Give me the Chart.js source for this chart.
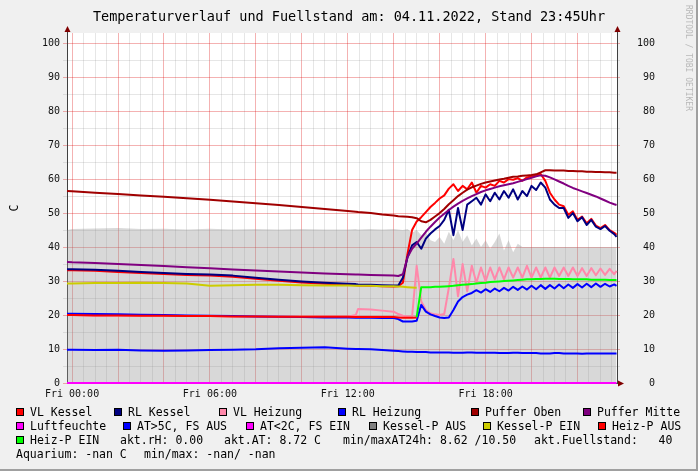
<!DOCTYPE html>
<html>
<head>
<meta charset="utf-8">
<script src="https://cdn.jsdelivr.net/npm/chart.js@4.4.1/dist/chart.umd.min.js"></script>
<style>
  body { margin: 0; background: #f0f0f0; }
  #wrap { position: relative; width: 698px; height: 471px; background: #f0f0f0; overflow: hidden;
          font-family: 'DejaVu Sans Mono', monospace; color: #000; }
  #frameR { position: absolute; right: 0; top: 0; width: 2px; height: 471px; background: #a0a0a0; }
  #frameB { position: absolute; left: 0; bottom: 0; width: 698px; height: 2px; background: #a0a0a0; }
  #title { position: absolute; left: 0; top: 8px; width: 698px; text-align: center; font-size: 13.5px; line-height: 16px; }
  #mark { position: absolute; left: 684px; top: 5px; writing-mode: vertical-rl; font-size: 8px; line-height: 9px; color: #b8b8b8; }
  .lg { position: absolute; font-size: 11.5px; line-height: 14px; white-space: pre; }
  .sq { position: absolute; width: 6px; height: 6px; border: 1px solid #000; }
  canvas { position: absolute; left: 0; top: 0; }
</style>
</head>
<body>
<div id="wrap">
  <div id="frameR"></div>
  <div id="frameB"></div>
  <canvas id="chart" width="698" height="471"></canvas>
  <div id="title">Temperaturverlauf und Fuellstand am: 04.11.2022, Stand 23:45Uhr</div>
  <div id="mark">RRDTOOL / TOBI OETIKER</div>
  <div id="legend"></div>
</div>
<script>
// time axis in hours (Fri 00:00 = 0), coarse while flat, dense once the boiler starts
const hours = [-0.22, 0, 1, 2, 3, 4, 5, 6, 7, 8, 9, 10, 11, 12, 12.35, 12.45, 13, 13.5, 14,
  14.2, 14.4, 14.6, 14.8, 15.0, 15.2, 15.4, 15.6, 15.8, 16.0, 16.2, 16.4, 16.6, 16.8, 17.0, 17.2,
  17.4, 17.6, 17.8, 18.0, 18.2, 18.4, 18.6, 18.8, 19.0, 19.2, 19.4, 19.6, 19.8, 20.0, 20.2, 20.4,
  20.6, 20.8, 21.0, 21.2, 21.4, 21.6, 21.8, 22.0, 22.2, 22.4, 22.6, 22.8, 23.0, 23.2, 23.4, 23.6, 23.7];

const vlKessel = [33.2, 33.2, 33.0, 32.7, 32.4, 32.1, 31.8, 31.6, 31.3, 30.7, 30.1, 29.6, 29.2, 28.9, 28.8, 28.7, 28.6, 28.5, 28.4,
  28.5, 29.5, 38.0, 45.0, 47.5, 48.8, 50.3, 51.8, 53.0, 54.3, 55.2, 57.2, 58.5, 56.5, 58.0, 57.0, 59.0, 56.0, 58.0, 57.5,
  58.5, 58.0, 59.5, 59.0, 60.0, 59.8, 60.3, 59.5, 60.5, 60.8, 61.0, 61.5, 59.5, 56.0, 54.0, 52.5, 52.0, 49.5, 50.5, 48.0,
  49.0, 47.0, 48.3, 46.3, 45.6, 46.5, 45.0, 44.2, 43.6];
const rlKessel = [33.5, 33.5, 33.3, 33.0, 32.7, 32.4, 32.1, 31.9, 31.6, 31.0, 30.4, 29.9, 29.5, 29.2, 29.1, 29.0, 28.9, 28.8, 28.7,
  28.7, 31.0, 37.0, 40.5, 41.5, 39.5, 42.5, 44.0, 45.2, 46.2, 48.0, 51.0, 43.5, 51.5, 45.0, 52.5, 53.5, 54.5, 52.5, 55.5,
  53.5, 56.0, 54.0, 56.5, 54.5, 57.0, 54.0, 56.5, 55.0, 58.0, 56.8, 59.0, 57.5, 54.0, 52.5, 51.5, 51.5, 48.6, 50.0, 47.6,
  48.8, 46.5, 48.0, 46.0, 45.3, 46.2, 44.8, 43.8, 43.0];
const vlHeizung = [20.0, 20.0, 19.9, 19.9, 19.8, 19.8, 19.7, 19.7, 19.6, 19.6, 19.5, 19.5, 19.5, 19.5, 20.0, 21.8, 21.6, 21.3, 21.0,
  20.3, 19.8, 19.6, 19.5, 34.5, 24.0, 21.5, 20.5, 20.2, 20.0, 20.3, 28.0, 36.5, 25.5, 35.0, 27.0, 34.5, 29.5, 34.0, 30.0,
  34.0, 30.5, 34.0, 30.5, 34.0, 31.0, 34.0, 31.0, 34.5, 31.0, 34.0, 31.0, 34.0, 31.0, 34.0, 31.5, 34.0, 31.5, 34.0, 31.5,
  33.8, 31.5, 33.8, 31.7, 33.7, 31.8, 33.6, 32.0, 33.0];
const rlHeizung = [20.4, 20.4, 20.3, 20.2, 20.1, 20.0, 19.9, 19.8, 19.7, 19.6, 19.5, 19.4, 19.3, 19.3, 19.2, 19.2, 19.2, 19.1, 19.1,
  18.8, 18.1, 18.1, 18.1, 18.3, 23.0, 21.0, 20.2, 19.7, 19.3, 19.1, 19.3, 21.5, 24.0, 25.3, 26.0, 26.5, 27.3, 26.6, 27.6,
  26.8, 27.8, 27.0, 28.0, 27.2, 28.3, 27.4, 28.4, 27.5, 28.6, 27.6, 28.8, 27.7, 28.8, 27.8, 29.0, 27.9, 29.0, 28.0, 29.1,
  28.1, 29.2, 28.2, 29.3, 28.3, 29.2, 28.4, 29.0, 28.6];
const pufferOben = [56.5, 56.4, 56.0, 55.6, 55.2, 54.8, 54.4, 53.9, 53.4, 52.9, 52.4, 51.8, 51.2, 50.6, 50.4, 50.3, 50.0, 49.6, 49.3,
  49.1, 49.0, 48.9, 48.8, 48.5, 47.6, 47.3, 48.0, 49.0, 50.0, 51.2, 52.6, 53.8, 55.0, 56.0, 56.9, 57.6, 58.1, 58.6, 59.0,
  59.3, 59.6, 59.9, 60.1, 60.4, 60.7, 60.8, 61.0, 61.1, 61.2, 61.4, 62.0, 62.6, 62.6, 62.5, 62.5, 62.5, 62.4, 62.4, 62.3,
  62.3, 62.2, 62.2, 62.1, 62.1, 62.0, 62.0, 61.9, 61.9];
const pufferMitte = [35.6, 35.5, 35.3, 35.0, 34.7, 34.4, 34.1, 33.8, 33.4, 33.1, 32.8, 32.5, 32.2, 32.0, 31.9, 31.9, 31.8, 31.7, 31.6,
  31.5, 32.0, 37.0, 39.5, 41.0, 42.8, 44.5, 46.0, 47.4, 48.7, 49.8, 50.9, 51.9, 52.8, 53.6, 54.3, 55.0, 55.6, 56.2, 56.7,
  57.1, 57.5, 57.9, 58.2, 58.5, 58.8, 59.2, 59.6, 60.0, 60.4, 60.8, 61.1, 61.0, 60.5, 59.9, 59.3, 58.7, 58.0, 57.4, 56.9,
  56.4, 55.9, 55.4, 54.9, 54.3, 53.7, 53.1, 52.6, 52.4];
const luftfeuchte = [0, 0, 0, 0, 0, 0, 0, 0, 0, 0, 0, 0, 0, 0, 0, 0, 0, 0, 0,
  0, 0, 0, 0, 0, 0, 0, 0, 0, 0, 0, 0, 0, 0, 0, 0, 0, 0, 0, 0,
  0, 0, 0, 0, 0, 0, 0, 0, 0, 0, 0, 0, 0, 0, 0, 0, 0, 0, 0, 0,
  0, 0, 0, 0, 0, 0, 0, 0, 0];
const aussenTemp = [9.8, 9.8, 9.7, 9.8, 9.6, 9.5, 9.6, 9.7, 9.8, 9.9, 10.2, 10.4, 10.5, 10.1, 10.0, 10.0, 9.9, 9.7, 9.5,
  9.4, 9.3, 9.2, 9.2, 9.1, 9.1, 9.1, 9.0, 9.0, 9.0, 9.0, 9.0, 8.9, 8.9, 8.9, 9.0, 9.0, 8.9, 8.9, 8.9,
  8.9, 8.9, 8.8, 8.8, 8.8, 8.9, 8.9, 8.8, 8.8, 8.8, 8.8, 8.7, 8.7, 8.7, 8.8, 8.8, 8.7, 8.7, 8.7, 8.7,
  8.6, 8.7, 8.7, 8.7, 8.7, 8.7, 8.7, 8.7, 8.7];
const kesselPAus = [45.0, 45.3, 45.5, 45.6, 45.3, 45.4, 45.2, 45.4, 45.2, 45.3, 45.2, 45.3, 45.2, 45.2, 45.3, 45.2, 45.3, 45.2, 45.3,
  45.2, 45.0, 45.3, 44.2, 45.0, 43.5, 44.5, 42.0, 41.5, 43.0, 41.0, 44.5, 42.0, 45.0, 41.5, 43.5, 40.5, 42.5, 40.0, 42.0,
  39.5, 41.5, 44.0, 39.0, 42.0, 38.5, 41.0, 40.0, 40.0, 40.0, 40.0, 40.0, 40.0, 40.0, 40.0, 40.0, 40.0, 40.0, 40.0, 40.0,
  40.0, 40.0, 40.0, 40.0, 40.0, 40.0, 40.0, 40.0, 40.0];
const kesselPEin = [29.3, 29.3, 29.4, 29.4, 29.5, 29.4, 29.3, 28.6, 28.8, 28.9, 28.9, 28.8, 28.7, 28.7, 28.6, 28.6, 28.6, 28.5, 28.5,
  28.4, 28.3, 28.2, 28.1, 28.0, null, null, null, null, null, null, null, null, null, null, null, null, null, null, null,
  null, null, null, null, null, null, null, null, null, null, null, null, null, null, null, null, null, null, null, null,
  null, null, null, null, null, null, null, null, null];
const heizPAus = [20.0, 20.0, 19.9, 19.9, 19.8, 19.8, 19.7, 19.7, 19.6, 19.6, 19.5, 19.5, 19.5, 19.5, 19.4, 19.4, 19.4, 19.4, 19.4,
  19.3, 19.2, 19.2, 19.2, 19.3, null, null, null, null, null, null, null, null, null, null, null, null, null, null, null,
  null, null, null, null, null, null, null, null, null, null, null, null, null, null, null, null, null, null, null, null,
  null, null, null, null, null, null, null, null, null];
const heizPEin = [null, null, null, null, null, null, null, null, null, null, null, null, null, null, null, null, null, null, null,
  null, null, null, null, 19.4, 28.2, 28.2, 28.2, 28.3, 28.3, 28.4, 28.5, 28.6, 28.8, 28.9, 29.0, 29.1, 29.3, 29.4, 29.5,
  29.7, 29.8, 29.9, 30.0, 30.1, 30.2, 30.3, 30.4, 30.5, 30.5, 30.6, 30.6, 30.7, 30.7, 30.7, 30.6, 30.6, 30.6, 30.5, 30.5,
  30.5, 30.5, 30.4, 30.4, 30.4, 30.4, 30.3, 30.3, 30.3];

const legendNames = ['VL Kessel', 'RL Kessel', 'VL Heizung', 'RL Heizung', 'Puffer Oben', 'Puffer Mitte',
  'Luftfeuchte', 'AT>5C, FS AUS', 'AT<2C, FS EIN', 'Kessel-P AUS', 'Kessel-P EIN', 'Heiz-P AUS', 'Heiz-P EIN'];
const legendColors = ['#ff0000', '#000080', '#ff88aa', '#0000ff', '#a00000', '#800080',
  '#ff00ff', '#0000ff', '#ff00ff', '#808080', '#cccc00', '#ff0000', '#00ff00'];
const seriesValues = [vlKessel, rlKessel, vlHeizung, rlHeizung, pufferOben, pufferMitte,
  luftfeuchte, aussenTemp, null, kesselPAus, kesselPEin, heizPAus, heizPEin];

const xLabelHours = [0, 6, 12, 18];
const xLabels = ['Fri 00:00', 'Fri 06:00', 'Fri 12:00', 'Fri 18:00'];
const statTexts = ['akt.rH: 0.00', 'akt.AT: 8.72 C', 'min/maxAT24h: 8.62 /10.50', 'akt.Fuellstand:   40'];
const aquariumTexts = ['Aquarium: -nan C', 'min/max: -nan/ -nan'];

// legend layout (text x position, row)
const legendPos = [[30, 0], [128, 0], [233, 0], [352, 0], [485, 0], [597, 0],
  [30, 1], [137, 1], [260, 1], [383, 1], [497, 1], [612, 1], [30, 2]];
const statPos = [120, 224, 343, 534];
const aquariumPos = [16, 144];
const rowTop = [405, 419, 433, 447];

const legendEl = document.getElementById('legend');
function addText(txt, x, top) {
  const d = document.createElement('div');
  d.className = 'lg';
  d.style.left = x + 'px';
  d.style.top = top + 'px';
  d.textContent = txt;
  legendEl.appendChild(d);
}
legendNames.forEach((name, i) => {
  const [x, row] = legendPos[i];
  const sq = document.createElement('div');
  sq.className = 'sq';
  sq.style.left = (x - 14) + 'px';
  sq.style.top = (rowTop[row] + 3) + 'px';
  sq.style.background = legendColors[i];
  legendEl.appendChild(sq);
  addText(name, x, rowTop[row]);
});
statTexts.forEach((t, i) => addText(t, statPos[i], rowTop[2]));
aquariumTexts.forEach((t, i) => addText(t, aquariumPos[i], rowTop[3]));

// datasets; first legend entry is drawn first (bottom)
const datasets = [];
seriesValues.forEach((vals, i) => {
  if (!vals) return;
  const isArea = legendNames[i] === 'Kessel-P AUS';
  datasets.push({
    label: legendNames[i],
    data: hours.map((h, k) => ({ x: h, y: vals[k] })),
    borderColor: isArea ? 'rgba(0,0,0,0)' : legendColors[i],
    backgroundColor: isArea ? 'rgba(150,150,150,0.37)' : legendColors[i],
    borderWidth: isArea ? 0 : 2,
    fill: isArea ? 'origin' : false,
    order: isArea ? 100 : 50 - i,
    clip: 4,
    spanGaps: false
  });
});

const gridRed = 'rgba(220,0,0,0.3)';
const gridGray = 'rgba(128,128,128,0.2)';

const rrdFrame = {
  id: 'rrdFrame',
  beforeDraw(chart) {
    const a = chart.chartArea, c = chart.ctx;
    c.save();
    c.fillStyle = '#ffffff';
    c.fillRect(a.left, a.top, a.right - a.left, a.bottom - a.top);
    c.restore();
  },
  beforeDatasetsDraw(chart) {
    const a = chart.chartArea, c = chart.ctx;
    c.save();
    c.strokeStyle = '#404040';
    c.lineWidth = 1;
    c.beginPath();
    c.moveTo(a.left + 0.5, a.bottom); c.lineTo(a.left + 0.5, a.top - 4);
    c.moveTo(a.right + 0.5, a.bottom); c.lineTo(a.right + 0.5, a.top - 4);
    c.moveTo(a.left, a.bottom + 0.5); c.lineTo(a.right + 4, a.bottom + 0.5);
    c.stroke();
    c.restore();
  },
  afterDraw(chart) {
    const a = chart.chartArea, c = chart.ctx;
    c.save();
    c.fillStyle = '#800000';
    [a.left + 0.5, a.right + 0.5].forEach(x => {
      c.beginPath();
      c.moveTo(x, a.top - 7); c.lineTo(x - 3, a.top - 1); c.lineTo(x + 3, a.top - 1);
      c.closePath(); c.fill();
    });
    c.beginPath();
    c.moveTo(a.right + 7, a.bottom + 0.5); c.lineTo(a.right + 1, a.bottom - 2.5); c.lineTo(a.right + 1, a.bottom + 3.5);
    c.closePath(); c.fill();
    c.restore();
  }
};

Chart.defaults.font.family = "'DejaVu Sans Mono', monospace";
Chart.defaults.color = '#000';

const yTickValues = [];
for (let v = 0; v <= 100; v += 5) yTickValues.push(v);
const xTickValues = [];
for (let h = 0; h <= 23.5; h += 0.5) xTickValues.push(h);

const yGridColor = c => (c.tick && c.tick.value % 10 === 0) ? gridRed : gridGray;

new Chart(document.getElementById('chart'), {
  type: 'line',
  data: { datasets },
  options: {
    responsive: false,
    animation: false,
    devicePixelRatio: 1,
    layout: { padding: { top: 33, bottom: 68, left: 0, right: 43 } },
    plugins: { legend: { display: false }, tooltip: { enabled: false }, title: { display: false } },
    elements: { point: { radius: 0 }, line: { tension: 0, borderJoinStyle: 'round' } },
    scales: {
      x: {
        type: 'linear', min: -0.22, max: 23.72,
        afterBuildTicks: s => { s.ticks = xTickValues.map(v => ({ value: v })); },
        afterFit: s => { s.height = 20; },
        grid: { color: c => (c.tick && c.tick.value % 2 === 0) ? gridRed : gridGray, drawTicks: false },
        border: { display: false },
        ticks: {
          autoSkip: false, maxRotation: 0, padding: 5, font: { size: 10 }, color: '#111',
          callback: v => { const k = xLabelHours.indexOf(v); return k >= 0 ? xLabels[k] : ''; }
        }
      },
      y: {
        position: 'left', min: 0, max: 103,
        afterBuildTicks: s => { s.ticks = yTickValues.map(v => ({ value: v })); },
        afterFit: s => { s.width = 67; },
        grid: { color: yGridColor, tickLength: 4 },
        border: { display: false },
        ticks: { padding: 3, font: { size: 10 }, color: '#111', callback: v => v % 10 === 0 ? String(v) : '' },
        title: { display: true, text: 'C', font: { size: 11.5 }, padding: { top: 8, bottom: 0 } }
      },
      y2: {
        position: 'right', min: 0, max: 103,
        afterBuildTicks: s => { s.ticks = yTickValues.map(v => ({ value: v })); },
        afterFit: s => { s.width = 38; },
        grid: { color: yGridColor, tickLength: 3, drawOnChartArea: false },
        border: { display: false },
        ticks: { crossAlign: 'far', padding: 3, font: { size: 10 }, color: '#111', callback: v => v % 10 === 0 ? String(v) : '' }
      }
    }
  },
  plugins: [rrdFrame]
});
</script>
</body>
</html>
